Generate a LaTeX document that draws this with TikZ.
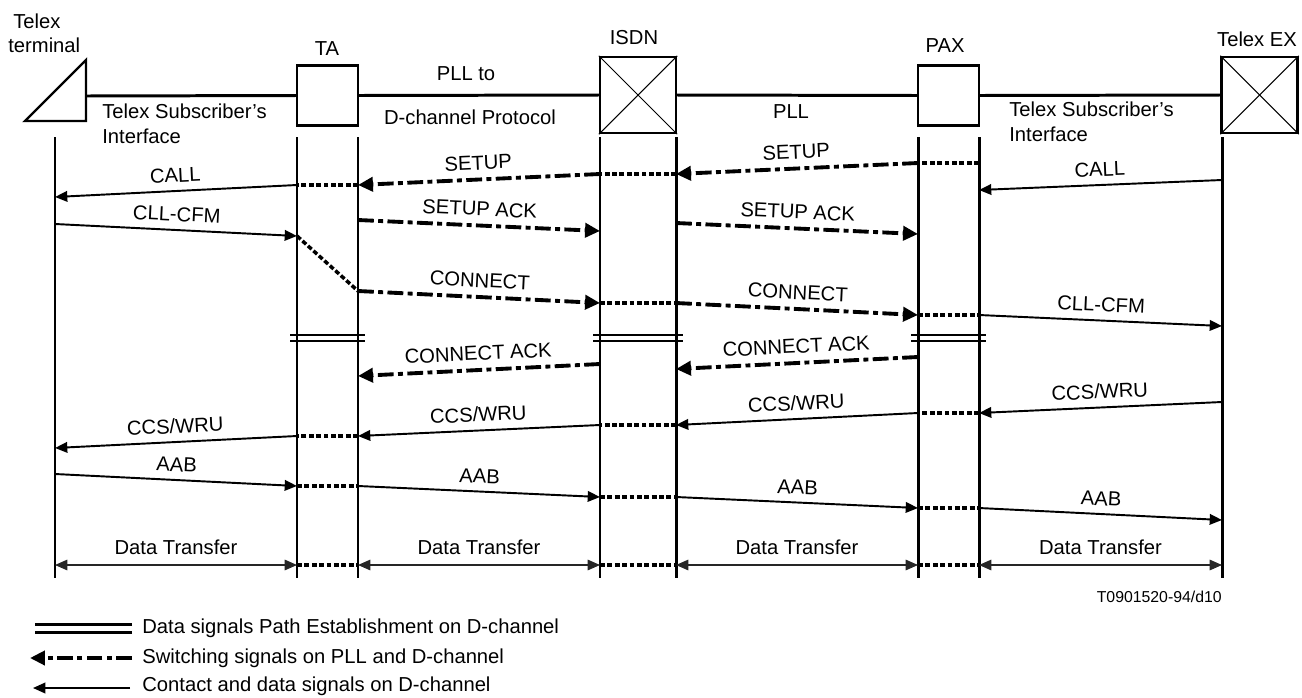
\documentclass[tikz,border=0pt]{standalone}
\usepackage{fontspec}
\setmainfont{Liberation Sans}
\usetikzlibrary{arrows.meta,calc}

\begin{document}
\begin{tikzpicture}[x=0.02cm, y=-0.02cm,
    font=\fontsize{11.5}{13.8}\selectfont,
    life/.style={line width=1.7pt},
    unitbox/.style={draw, line width=1.3pt, inner sep=0pt, minimum width=1.22cm, minimum height=1.2cm},
    exchbox/.style={draw, line width=1.3pt, inner sep=0pt, minimum size=1.52cm},
    txt/.style={inner sep=0pt},
    solidmsg/.style={line width=1.1pt, -{Triangle[length=7pt,width=6pt]}},
    swmsg/.style={line width=2.2pt, dash pattern=on 9pt off 2.5pt on 2.8pt off 2.5pt, -{Triangle[length=8.5pt,width=8pt]}},
    dotline/.style={line width=2pt, dash pattern=on 2.8pt off 1.4pt},
    xfer/.style={line width=0.6pt, black!85, {Triangle[length=7pt,width=6pt]}-{Triangle[length=7pt,width=6pt]}},
    lbl/.style={above=1pt, sloped, midway}]
    \useasboundingbox (0,0) rectangle (1302,697);

    % Terminal and network units
    \draw[line width=1.3pt, line join=miter] (25,121) -- (86,60) -- (86,121) -- cycle;
    \node[unitbox] (ta) at (327.5,95.5) {};
    \node[exchbox] (isdn) at (638,95) {};
    \node[unitbox] (pax) at (948.5,95.5) {};
    \node[exchbox] (tex) at (1259.5,95) {};
    \foreach \u in {isdn,tex} {
        \draw[line width=0.6pt] (\u.north west) -- (\u.south east);
        \draw[line width=0.6pt] (\u.south west) -- (\u.north east);
    }

    % Line between the units
    \draw[life] (86,96) -- (ta.west);
    \draw[life] (ta.east) -- (isdn.west);
    \draw[life] (isdn.east) -- (pax.west);
    \draw[life] (pax.east) -- (tex.west);

    % Names
    \node[txt, anchor=base west] (tname1) at (13,28) {Telex};
    \node[txt, anchor=base west] (tname2) at (8,52) {terminal};
    \node (taname) at (327,49) {TA};
    \node (isdnname) at (634,38) {ISDN};
    \node (paxname) at (945,46) {PAX};
    \node (texname) at (1257,39) {Telex EX};
    \node (pllto) at (466,74) {PLL to};
    \node (dprot) at (470,117) {D-channel Protocol};
    \node (pll) at (791,112) {PLL};
    \node[txt, anchor=base west] (tsi1) at (102,118) {Telex Subscriber's};
    \node[txt, anchor=base west] (tsi2) at (102,143) {Interface};
    \node[txt, anchor=base west] (tsi3) at (1009,116) {Telex Subscriber's};
    \node[txt, anchor=base west] (tsi4) at (1009,141) {Interface};

    % Lifelines
    \coordinate (tt) at (55,137);
    \coordinate (tal) at (297,137);
    \coordinate (tar) at (358,137);
    \coordinate (isl) at (600,137);
    \coordinate (isr) at (676,137);
    \coordinate (pxl) at (918,137);
    \coordinate (pxr) at (979,137);
    \coordinate (ex) at (1222,137);
    \foreach \n in {tt,tal,tar,isl,isr,pxl,pxr,ex} {
        \draw[life] (\n) -- (\n |- 0,578);
    }

    % SETUP / CALL
    \draw[dotline] (pxr |- 0,163) -- (pxl |- 0,163);
    \draw[swmsg] (pxl |- 0,163) -- node[lbl] (setup2) {SETUP} (isr |- 0,174);
    \draw[dotline] (isr |- 0,174) -- (isl |- 0,174);
    \draw[swmsg] (isl |- 0,174) -- node[lbl] (setup1) {SETUP} (tar |- 0,185);
    \draw[dotline] (tar |- 0,185) -- (tal |- 0,185);
    \draw[solidmsg] (tal |- 0,185) -- node[lbl] (call1) {CALL} (tt |- 0,197);
    \draw[solidmsg] (ex |- 0,180) -- node[lbl] (call2) {CALL} (pxr |- 0,190);

    % CLL-CFM
    \draw[solidmsg] (tt |- 0,224) -- node[lbl] (cfm1) {CLL-CFM} (tal |- 0,236);
    \draw[dotline] (tal |- 0,236) -- (tar |- 0,291);

    % SETUP ACK
    \draw[swmsg] (tar |- 0,220) -- node[lbl] (sack1) {SETUP ACK} (isl |- 0,231);
    \draw[swmsg] (isr |- 0,223) -- node[lbl] (sack2) {SETUP ACK} (pxl |- 0,234);

    % CONNECT
    \draw[swmsg] (tar |- 0,291) -- node[lbl] (conn1) {CONNECT} (isl |- 0,303);
    \draw[dotline] (isl |- 0,303) -- (isr |- 0,303);
    \draw[swmsg] (isr |- 0,303) -- node[lbl] (conn2) {CONNECT} (pxl |- 0,315);
    \draw[dotline] (pxl |- 0,315) -- (pxr |- 0,315);
    \draw[solidmsg] (pxr |- 0,315) -- node[lbl] (cfm2) {CLL-CFM} (ex |- 0,326);

    % Path established
    \foreach \a/\b in {tal/tar,isl/isr,pxl/pxr} {
        \foreach \y in {335,341} {
            \draw[line width=1.4pt] ($(\a |- 0,\y)+(-7,0)$) -- ($(\b |- 0,\y)+(7,0)$);
        }
    }

    % CONNECT ACK
    \draw[swmsg] (pxl |- 0,357) -- node[lbl] (cack2) {CONNECT ACK} (isr |- 0,369);
    \draw[swmsg] (isl |- 0,364) -- node[lbl] (cack1) {CONNECT ACK} (tar |- 0,376);

    % CCS/WRU
    \draw[solidmsg] (ex |- 0,402) -- node[lbl] (wru4) {CCS/WRU} (pxr |- 0,413);
    \draw[dotline] (pxr |- 0,413) -- (pxl |- 0,413);
    \draw[solidmsg] (pxl |- 0,413) -- node[lbl] (wru3) {CCS/WRU} (isr |- 0,425);
    \draw[dotline] (isr |- 0,425) -- (isl |- 0,425);
    \draw[solidmsg] (isl |- 0,425) -- node[lbl] (wru2) {CCS/WRU} (tar |- 0,436);
    \draw[dotline] (tar |- 0,436) -- (tal |- 0,436);
    \draw[solidmsg] (tal |- 0,436) -- node[lbl] (wru1) {CCS/WRU} (tt |- 0,448);

    % AAB
    \draw[solidmsg] (tt |- 0,474) -- node[lbl] (aab1) {AAB} (tal |- 0,486);
    \draw[dotline] (tal |- 0,486) -- (tar |- 0,486);
    \draw[solidmsg] (tar |- 0,486) -- node[lbl] (aab2) {AAB} (isl |- 0,497);
    \draw[dotline] (isl |- 0,497) -- (isr |- 0,497);
    \draw[solidmsg] (isr |- 0,497) -- node[lbl] (aab3) {AAB} (pxl |- 0,508);
    \draw[dotline] (pxl |- 0,508) -- (pxr |- 0,508);
    \draw[solidmsg] (pxr |- 0,508) -- node[lbl] (aab4) {AAB} (ex |- 0,520);

    % Data transfer
    \foreach \a/\b/\n in {tt/tal/dt1,tar/isl/dt2,isr/pxl/dt3,pxr/ex/dt4} {
        \draw[xfer] (\a |- 0,565) -- node[above=2pt, black] (\n) {Data Transfer} (\b |- 0,565);
    }
    \foreach \a/\b in {tal/tar,isl/isr,pxl/pxr} {
        \draw[dotline] (\a |- 0,565) -- (\b |- 0,565);
    }

    \node[txt, anchor=east, font=\fontsize{9}{11}\selectfont] (figno) at (1222,597) {T0901520-94/d10};

    % Legend
    \node[txt, anchor=west] (lg1) at (142,628) {Data signals Path Establishment on D-channel};
    \node[txt, anchor=west] (lg2) at (142,658) {Switching signals on PLL and D-channel};
    \node[txt, anchor=west] (lg3) at (142,686) {Contact and data signals on D-channel};
    \draw[line width=1.7pt] ($(lg1.west)+(-10,-3.5)$) -- ++(-97,0);
    \draw[line width=1.7pt] ($(lg1.west)+(-10,4)$) -- ++(-97,0);
    \draw[swmsg] ($(lg2.west)+(-10,0)$) -- ++(-102,0);
    \draw[solidmsg] ($(lg3.west)+(-12,2)$) -- ++(-97,0);
\end{tikzpicture}
\end{document}
